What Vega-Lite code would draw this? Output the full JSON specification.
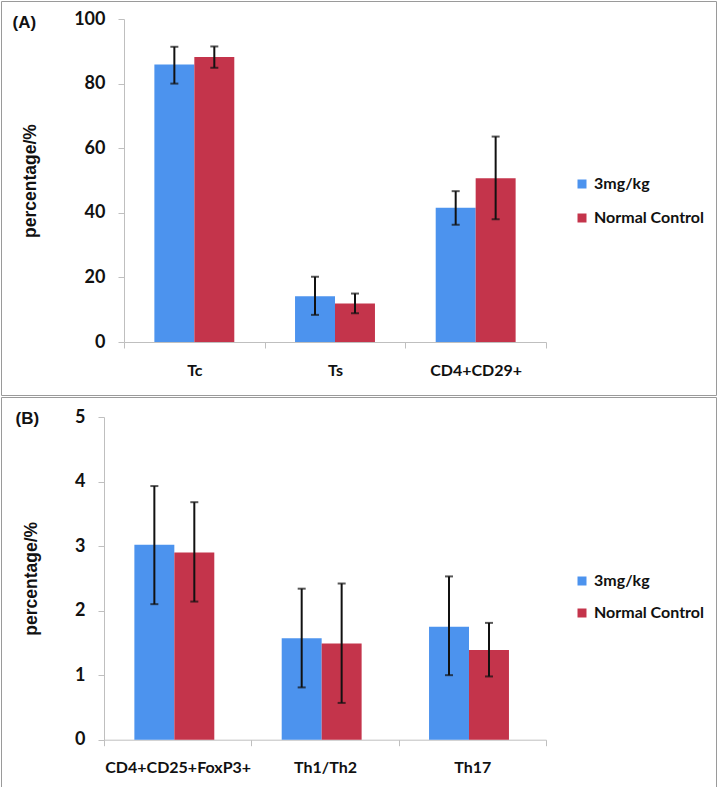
{
  "$schema": "https://vega.github.io/schema/vega-lite/v6.json",
  "background": "white",
  "padding": 0,
  "spacing": 0,
  "datasets": {
    "panelA": [
      {"category": "Tc", "group": "3mg/kg", "value": 85.9, "lo": 80.0, "hi": 91.4},
      {"category": "Tc", "group": "Normal Control", "value": 88.2, "lo": 84.9, "hi": 91.5},
      {"category": "Ts", "group": "3mg/kg", "value": 14.2, "lo": 8.4, "hi": 20.2},
      {"category": "Ts", "group": "Normal Control", "value": 11.9, "lo": 8.9, "hi": 15.0},
      {"category": "CD4+CD29+", "group": "3mg/kg", "value": 41.6, "lo": 36.3, "hi": 46.7},
      {"category": "CD4+CD29+", "group": "Normal Control", "value": 50.7, "lo": 38.0, "hi": 63.6}
    ],
    "panelB": [
      {"category": "CD4+CD25+FoxP3+", "group": "3mg/kg", "value": 3.02, "lo": 2.10, "hi": 3.93},
      {"category": "CD4+CD25+FoxP3+", "group": "Normal Control", "value": 2.90, "lo": 2.14, "hi": 3.68},
      {"category": "Th1/Th2", "group": "3mg/kg", "value": 1.57, "lo": 0.81, "hi": 2.34},
      {"category": "Th1/Th2", "group": "Normal Control", "value": 1.49, "lo": 0.57, "hi": 2.42},
      {"category": "Th17", "group": "3mg/kg", "value": 1.75, "lo": 1.00, "hi": 2.53},
      {"category": "Th17", "group": "Normal Control", "value": 1.39, "lo": 0.98, "hi": 1.81}
    ]
  },
  "config": {
    "view": {"stroke": "#9a9a9a", "strokeWidth": 1},
    "axis": {
      "domainColor": "#bfbfbf",
      "tickColor": "#bfbfbf",
      "tickSize": 6,
      "grid": false,
      "labelFont": "Lato",
      "labelFontWeight": "bold",
      "labelFontSize": 16,
      "labelColor": "#111111",
      "titleFont": "Liberation Sans",
      "titleFontSize": 17.5,
      "titleFontWeight": "bold",
      "titleColor": "#111111"
    },
    "legend": {
      "orient": "none",
      "title": null,
      "symbolType": "square",
      "symbolSize": 81,
      "symbolStrokeWidth": 0,
      "labelFont": "Lato",
      "labelFontWeight": "bold",
      "labelFontSize": 16,
      "labelColor": "#111111",
      "labelOffset": 4,
      "padding": 0
    }
  },
  "resolve": {"scale": {"color": "independent"}, "legend": {"color": "independent"}},
  "vconcat": [
    {
      "width": 715,
      "height": 394,
      "data": {"name": "panelA"},
      "encoding": {
        "x": {
          "field": "category", "type": "nominal", "sort": null,
          "scale": {"range": [123, 545], "paddingInner": 0, "paddingOuter": 0},
          "axis": {
            "orient": "bottom", "offset": -53, "tickBand": "extent", "labelAngle": 0, "labelPadding": 14,
            "title": "(A)", "titleX": 11, "titleY": -314.5, "titleAngle": 0, "titleAlign": "left",
            "titleBaseline": "alphabetic", "titleFont": "Liberation Sans", "titleFontSize": 17, "titleFontWeight": "bold"
          }
        },
        "xOffset": {"field": "group", "type": "nominal", "scale": {"paddingInner": 0, "paddingOuter": 0.76}}
      },
      "layer": [
        {
          "mark": {"type": "bar"},
          "encoding": {
            "y": {
              "field": "value", "type": "quantitative",
              "scale": {"domain": [0, 100], "range": [341, 18], "nice": false, "zero": true},
              "axis": {"offset": -123, "values": [0, 20, 40, 60, 80, 100], "format": "d", "labelFontSize": 18, "labelPadding": 13, "title": "percentage/%", "titlePadding": 34}
            },
            "color": {
              "field": "group", "type": "nominal",
              "scale": {"domain": ["3mg/kg", "Normal Control"], "range": ["#4c93ee", "#c4344b"]},
              "legend": {"legendX": 573, "legendY": 175, "rowPadding": 18}
            }
          }
        },
        {
          "mark": {"type": "rule", "color": "#111111", "strokeWidth": 2},
          "encoding": {
            "y": {"field": "lo", "type": "quantitative"},
            "y2": {"field": "hi"}
          }
        },
        {
          "mark": {"type": "tick", "orient": "horizontal", "color": "#111111", "size": 8, "thickness": 2},
          "encoding": {"y": {"field": "lo", "type": "quantitative"}}
        },
        {
          "mark": {"type": "tick", "orient": "horizontal", "color": "#111111", "size": 8, "thickness": 2},
          "encoding": {"y": {"field": "hi", "type": "quantitative"}}
        }
      ]
    },
    {
      "width": 715,
      "height": 391,
      "data": {"name": "panelB"},
      "encoding": {
        "x": {
          "field": "category", "type": "nominal", "sort": null,
          "scale": {"range": [103, 545], "paddingInner": 0, "paddingOuter": 0},
          "axis": {
            "orient": "bottom", "offset": -48.3, "tickBand": "extent", "labelAngle": 0, "labelPadding": 14,
            "title": "(B)", "titleX": 14, "titleY": -316, "titleAngle": 0, "titleAlign": "left",
            "titleBaseline": "alphabetic", "titleFont": "Liberation Sans", "titleFontSize": 17, "titleFontWeight": "bold"
          }
        },
        "xOffset": {"field": "group", "type": "nominal", "scale": {"paddingInner": 0, "paddingOuter": 0.76}}
      },
      "layer": [
        {
          "mark": {"type": "bar"},
          "encoding": {
            "y": {
              "field": "value", "type": "quantitative",
              "scale": {"domain": [0, 5], "range": [342.7, 20], "nice": false, "zero": true},
              "axis": {"offset": -103, "values": [0, 1, 2, 3, 4, 5], "format": "d", "labelFontSize": 18, "labelPadding": 13, "title": "percentage/%", "titlePadding": 34}
            },
            "color": {
              "field": "group", "type": "nominal",
              "scale": {"domain": ["3mg/kg", "Normal Control"], "range": ["#4c93ee", "#c4344b"]},
              "legend": {"legendX": 573, "legendY": 176, "rowPadding": 16}
            }
          }
        },
        {
          "mark": {"type": "rule", "color": "#111111", "strokeWidth": 2},
          "encoding": {
            "y": {"field": "lo", "type": "quantitative"},
            "y2": {"field": "hi"}
          }
        },
        {
          "mark": {"type": "tick", "orient": "horizontal", "color": "#111111", "size": 8, "thickness": 2},
          "encoding": {"y": {"field": "lo", "type": "quantitative"}}
        },
        {
          "mark": {"type": "tick", "orient": "horizontal", "color": "#111111", "size": 8, "thickness": 2},
          "encoding": {"y": {"field": "hi", "type": "quantitative"}}
        }
      ]
    }
  ]
}
